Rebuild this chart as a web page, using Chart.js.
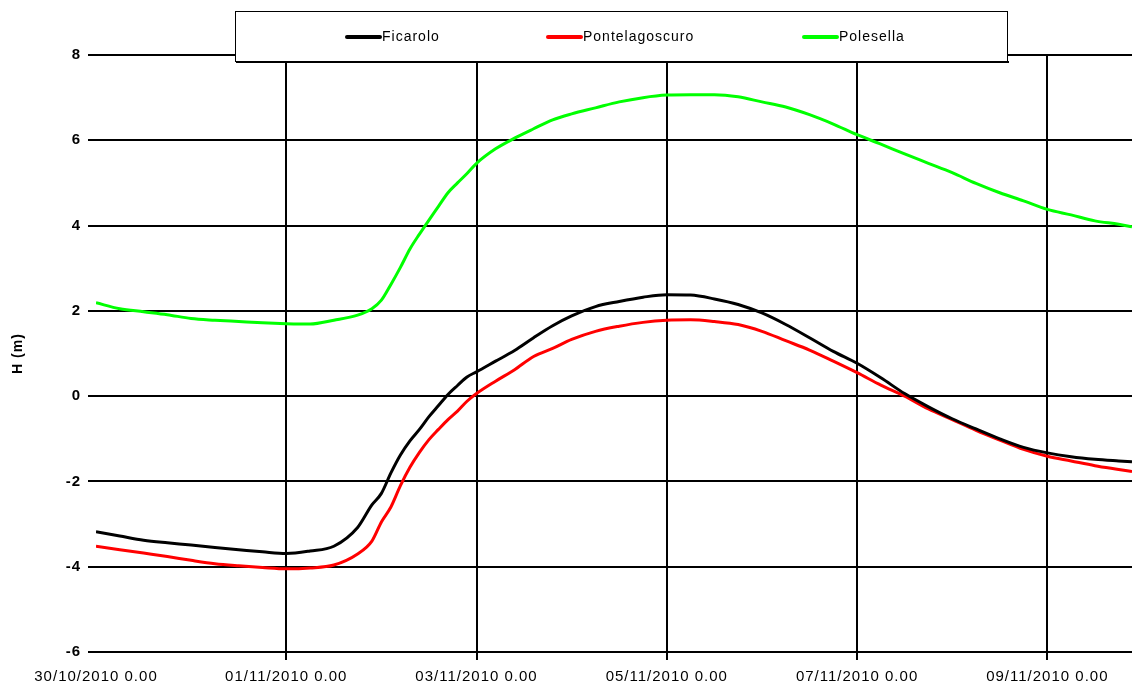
<!DOCTYPE html>
<html>
<head>
<meta charset="utf-8">
<script src="https://cdn.jsdelivr.net/npm/chart.js@4"></script>
<style>
  html, body { margin: 0; padding: 0; background: #fff; }
  #wrap { width: 1132px; height: 685px; }
</style>
</head>
<body>
<div id="wrap"><canvas id="levelChart" width="1132" height="685"></canvas></div>
<script>
// days since 30/10/2010 0.00
const days = [0, 0.25, 0.5, 0.75, 1, 1.25, 1.5, 1.75, 2, 2.25, 2.5, 2.75, 2.9, 3.0, 3.1, 3.2, 3.3, 3.4, 3.5, 3.6, 3.7, 3.8, 3.9, 4.0,
  4.2, 4.4, 4.6, 4.8, 5.0, 5.25, 5.5, 5.75, 6.0, 6.25, 6.5, 6.75, 7.0, 7.25, 7.5, 7.75, 8.0, 8.25, 8.5, 8.75, 9.0, 9.25, 9.5, 9.75,
  10.0, 10.25, 10.5, 10.75, 10.89]

const ficarolo = [-3.18, -3.28, -3.38, -3.44, -3.49, -3.55, -3.60, -3.65, -3.69, -3.63, -3.52, -3.08, -2.55, -2.28, -1.80, -1.38,
  -1.05, -0.78, -0.48, -0.22, 0.04, 0.25, 0.45, 0.57, 0.82, 1.07, 1.37, 1.65, 1.88, 2.10, 2.22, 2.32, 2.38, 2.37, 2.28, 2.15,
  1.95, 1.68, 1.37, 1.05, 0.77, 0.43, 0.06, -0.25, -0.53, -0.77, -1.00, -1.20, -1.33, -1.42, -1.48, -1.52, -1.54]

const pontelagoscuro = [-3.52, -3.60, -3.68, -3.76, -3.85, -3.93, -3.98, -4.02, -4.05, -4.03, -3.96, -3.70, -3.40, -2.95, -2.60,
  -2.10, -1.67, -1.32, -1.02, -0.78, -0.55, -0.35, -0.12, 0.06, 0.35, 0.62, 0.93, 1.12, 1.33, 1.52, 1.64, 1.73, 1.78, 1.79, 1.75,
  1.68, 1.52, 1.30, 1.08, 0.82, 0.55, 0.26, 0.00, -0.30, -0.55, -0.80, -1.03, -1.25, -1.41, -1.52, -1.63, -1.72, -1.77]

const polesella = [2.19, 2.05, 1.98, 1.91, 1.82, 1.78, 1.75, 1.72, 1.70, 1.69, 1.78, 1.90, 2.05, 2.25, 2.62, 3.02, 3.45, 3.80,
  4.13, 4.45, 4.77, 5.00, 5.22, 5.46, 5.80, 6.05, 6.27, 6.48, 6.62, 6.76, 6.90, 7.00, 7.06, 7.07, 7.07, 7.02, 6.90, 6.78, 6.60,
  6.38, 6.13, 5.91, 5.68, 5.46, 5.24, 4.99, 4.77, 4.58, 4.38, 4.25, 4.11, 4.03, 3.97]

const tickDays = [0, 2, 4, 6, 8, 10]
const tickLabels = ["30/10/2010 0.00", "01/11/2010 0.00", "03/11/2010 0.00", "05/11/2010 0.00", "07/11/2010 0.00", "09/11/2010 0.00"]

const FONT = "'Liberation Sans', Arial, sans-serif"

const toPoints = (vals) => vals.map((v, i) => ({ x: days[i], y: v }))

// a bit of letter spacing, the original text is rather loose
const spacing = {
  id: "spacing",
  beforeUpdate(chart) { chart.ctx.letterSpacing = "1px" },
  beforeDraw(chart) { chart.ctx.letterSpacing = "1px" },
}

// legend box drawn over the top of the plot
const boxLegend = {
  id: "boxLegend",
  afterDraw(chart) {
    const ctx = chart.ctx
    ctx.save()
    ctx.fillStyle = "#fff"
    ctx.fillRect(235, 11, 773, 51)
    ctx.strokeStyle = "#000"
    ctx.lineWidth = 1
    ctx.strokeRect(235.5, 11.5, 772, 50)
    ctx.lineWidth = 2
    ctx.beginPath()
    ctx.moveTo(236, 62)
    ctx.lineTo(1009, 62)
    ctx.stroke()

    const itemX = [345, 546, 802]
    ctx.font = "14px " + FONT
    ctx.textBaseline = "middle"
    ctx.textAlign = "left"
    chart.data.datasets.forEach((ds, i) => {
      const x = itemX[i]
      ctx.strokeStyle = ds.borderColor
      ctx.lineWidth = 4
      ctx.lineCap = "round"
      ctx.beginPath()
      ctx.moveTo(x + 2, 37)
      ctx.lineTo(x + 35, 37)
      ctx.stroke()
      ctx.fillStyle = "#000"
      ctx.fillText(ds.label, x + 37, 37)
    })
    ctx.restore()
  },
}

const levelChart = new Chart(document.getElementById("levelChart"), {
  type: "line",
  data: {
    datasets: [
      { label: "Ficarolo", data: toPoints(ficarolo), borderColor: "#000000" },
      { label: "Pontelagoscuro", data: toPoints(pontelagoscuro), borderColor: "#ff0000" },
      { label: "Polesella", data: toPoints(polesella), borderColor: "#00ff00" },
    ],
  },
  options: {
    responsive: false,
    animation: false,
    events: [],
    layout: { padding: { top: 55, right: 0, left: 0, bottom: 0 } },
    elements: {
      line: { borderWidth: 3, cubicInterpolationMode: "monotone", fill: false },
      point: { radius: 0 },
    },
    scales: {
      x: {
        type: "linear",
        min: 0,
        max: 10.89,
        afterBuildTicks: (scale) => {
          scale.ticks = tickDays.map((v) => ({ value: v }))
        },
        afterFit: (scale) => {
          scale.height = 33
        },
        border: { display: false },
        grid: {
          color: (c) => (c.tick && c.tick.value === 0 ? "rgba(0,0,0,0)" : "#000"),
          lineWidth: 2,
          tickLength: 8,
        },
        ticks: {
          autoSkip: false,
          maxRotation: 0,
          padding: 8,
          color: "#000",
          font: { family: FONT, size: 15 },
          callback: (value, index) => tickLabels[index],
        },
      },
      y: {
        min: -6,
        max: 8,
        afterFit: (scale) => {
          scale.width = 96
        },
        border: { display: false },
        grid: { color: "#000", lineWidth: 2, tickLength: 8 },
        ticks: {
          stepSize: 2,
          padding: 7,
          color: "#000",
          font: { family: FONT, size: 15, weight: "bold" },
        },
        title: {
          display: true,
          text: "H (m)",
          color: "#000",
          padding: { top: 10, bottom: 0 },
          font: { family: FONT, size: 14, weight: "bold" },
        },
      },
    },
    plugins: {
      legend: { display: false },
      tooltip: { enabled: false },
    },
  },
  plugins: [spacing, boxLegend],
})
</script>
</body>
</html>
